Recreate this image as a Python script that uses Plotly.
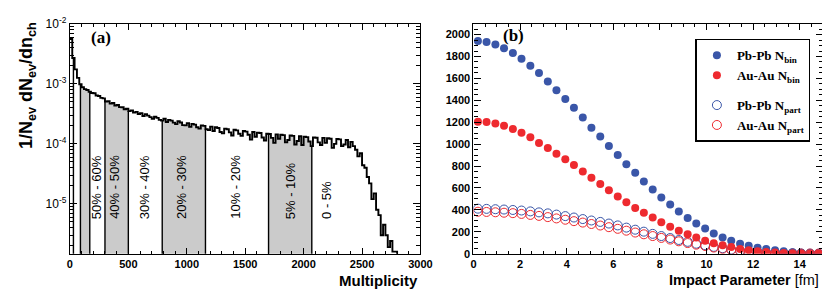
import numpy as np
import plotly.graph_objects as go

W, H = 830, 292

# ---------------- Left panel: multiplicity distribution ----------------
BIN_WIDTH = 20  # multiplicity units per histogram bin, first bin starts at 0
# bin contents in units of 1e-6 (1/N_ev dN_ev/dn_ch)
hist_1e6 = [
    5600, 2700, 1750, 1260, 990, 880, 820, 790, 740, 705,
    700, 640, 630, 585, 575, 510, 515, 470, 482, 436,
    445, 410, 408, 378, 385, 352, 362, 332, 342, 315,
    326, 292, 312, 296, 280, 262, 284, 272, 252, 244,
    262, 232, 252, 244, 226, 214, 238, 228, 206, 204,
    222, 192, 216, 210, 190, 180, 204, 200, 176, 170,
    194, 164, 190, 184, 158, 150, 180, 176, 156, 138,
    172, 168, 148, 136, 164, 160, 142, 118, 158, 132,
    154, 152, 128, 114, 148, 146, 126, 104, 144, 122,
    142, 140, 106, 116, 138, 136, 98, 112, 134, 96,
    132, 130, 110, 92, 128, 127, 106, 96, 126, 104,
    124, 122, 86, 100, 121, 119, 92, 98, 116, 88,
    108, 92, 80, 62, 70, 44, 40, 28, 22, 12,
    15, 8, 6.5, 3, 4.5, 3, 1.9, 2.4, 1.6, 1.6,
]
centrality_bounds = [30, 90, 170, 300, 500, 790, 1160, 1700, 2070]
gray_bands = [(90, 170), (300, 500), (790, 1160), (1700, 2070)]
centrality_labels = ["50% - 60%", "40% - 50%", "30% - 40%", "20% - 30%",
                     "10% - 20%", "5% - 10%", "0 - 5%"]
centrality_label_x = [235, 385, 645, 960, 1420, 1890, 2200]
left_xticks = [0, 500, 1000, 1500, 2000, 2500, 3000]
left_yticks = [1e-5, 1e-4, 1e-3, 1e-2]
left_yticklabels = ["10<sup>-5</sup>", "10<sup>-4</sup>", "10<sup>-3</sup>", "10<sup>-2</sup>"]

# ---------------- Right panel: Nbin / Npart vs impact parameter ----------------
impact_b = [0.19, 0.56, 0.94, 1.31, 1.69, 2.06, 2.44, 2.81, 3.19, 3.56,
            3.94, 4.31, 4.69, 5.06, 5.44, 5.81, 6.19, 6.56, 6.94, 7.31,
            7.69, 8.06, 8.44, 8.81, 9.19, 9.56, 9.94, 10.31, 10.69, 11.06,
            11.44, 11.81, 12.19, 12.56, 12.94, 13.31, 13.69, 14.06, 14.44, 14.81]
pbpb_nbin = [1942, 1933, 1910, 1875, 1832, 1780, 1716, 1650, 1571, 1493,
             1412, 1333, 1243, 1150, 1070, 983, 900, 817, 739, 658,
             585, 513, 450, 385, 325, 275, 229, 185, 148, 119,
             90, 72, 55, 43, 32, 22, 14, 8, 4, 2]
auau_nbin = [1205, 1203, 1188, 1168, 1138, 1104, 1063, 1011, 965, 913,
             861, 809, 750, 693, 635, 580, 522, 470, 417, 374,
             330, 287, 246, 209, 177, 148, 119, 96, 78, 61,
             43, 32, 22, 15, 10, 7, 4, 3, 2, 1]
pbpb_npart = [411, 409, 406, 403, 399, 394, 386, 377, 368, 357,
              343, 330, 316, 303, 290, 275, 258, 238, 219, 201,
              181, 161, 143, 125, 108, 91, 77, 62, 50, 38,
              28, 21, 15, 10, 6, 4, 2, 1, 1, 0.5]
auau_npart = [383, 381, 378, 374, 370, 363, 354, 345, 334, 322,
              310, 297, 284, 271, 257, 242, 227, 210, 193, 177,
              161, 144, 129, 113, 97, 82, 70, 56, 44, 34,
              25, 18, 12, 8, 5, 3, 2, 1, 1, 0.5]
right_xticks = [0, 2, 4, 6, 8, 10, 12, 14]
right_yticks = list(range(0, 2001, 200))

BLUE = "#3a56a8"
RED = "#ee2a2f"
GRAY = "#cbcbcb"

# ---------------- geometry (pixels) ----------------
L_X0, L_X1 = 60, 417
R_X0, R_X1 = 471, 827
Y_TOP, Y_BOT = 7, 249.5


def px(x):
    return x / W


def py(y):
    return 1 - y / H


hist = np.array(hist_1e6, dtype=float) * 1e-6
edges = np.arange(len(hist) + 1) * BIN_WIDTH
BASE = 1e-9  # below the visible log range (acts as "zero")


def hval(m):
    i = int(m // BIN_WIDTH)
    i = min(max(i, 0), len(hist) - 1)
    return hist[i]


fig = go.Figure()

# gray filled centrality bands under the histogram
for lo, hi in gray_bands:
    xs, ys = [lo], [BASE]
    xs.append(lo); ys.append(hval(lo))
    cur = hval(lo)
    for e in edges:
        if lo < e < hi:
            xs.append(e); ys.append(cur)
            cur = hval(e)
            xs.append(e); ys.append(cur)
    xs.append(hi); ys.append(cur)
    xs.append(hi); ys.append(BASE)
    fig.add_trace(go.Scatter(x=xs, y=ys, mode="lines", fill="toself",
                             fillcolor=GRAY, line=dict(width=0),
                             xaxis="x", yaxis="y", showlegend=False,
                             hoverinfo="skip"))

# histogram outline
hx = list(edges[:-1]) + [edges[-1], edges[-1]]
hy = list(hist) + [hist[-1], BASE]
fig.add_trace(go.Scatter(x=hx, y=hy, mode="lines", line_shape="hv",
                         line=dict(color="black", width=1.9),
                         xaxis="x", yaxis="y", showlegend=False))

# centrality boundary lines
for c in centrality_bounds:
    fig.add_trace(go.Scatter(x=[c, c], y=[BASE, hval(c)], mode="lines",
                             line=dict(color="black", width=1.4),
                             xaxis="x", yaxis="y", showlegend=False,
                             hoverinfo="skip"))

# right panel markers
fig.add_trace(go.Scatter(x=impact_b, y=pbpb_npart, mode="markers",
                         name="Pb-Pb N<sub>part</sub>", legendgroup="part",
                         legendrank=3,
                         marker=dict(symbol="circle-open", size=9, color=BLUE,
                                     line=dict(width=1)),
                         xaxis="x2", yaxis="y2"))
fig.add_trace(go.Scatter(x=impact_b, y=auau_npart, mode="markers",
                         name="Au-Au N<sub>part</sub>", legendgroup="part",
                         legendrank=4,
                         marker=dict(symbol="circle-open", size=9, color=RED,
                                     line=dict(width=1)),
                         xaxis="x2", yaxis="y2"))
fig.add_trace(go.Scatter(x=impact_b, y=pbpb_nbin, mode="markers",
                         name="Pb-Pb N<sub>bin</sub>", legendgroup="bin",
                         legendrank=1,
                         marker=dict(symbol="circle", size=8, color=BLUE),
                         xaxis="x2", yaxis="y2"))
fig.add_trace(go.Scatter(x=impact_b, y=auau_nbin, mode="markers",
                         name="Au-Au N<sub>bin</sub>", legendgroup="bin",
                         legendrank=2,
                         marker=dict(symbol="circle", size=8, color=RED),
                         xaxis="x2", yaxis="y2"))

tickfont = dict(family="Liberation Sans", size=11, color="black", weight="bold")
common = dict(showline=True, linecolor="black", linewidth=1.2, mirror="ticks",
              ticks="inside", tickcolor="black", tickwidth=1,
              showgrid=False, zeroline=False, tickfont=tickfont,
              ticklabeloverflow="allow")

ydom = [py(Y_BOT), py(Y_TOP)]
minor_log = [k * 10.0 ** e for e in (-6, -5, -4, -3) for k in range(2, 10)]

fig.update_layout(
    width=W, height=H,
    margin=dict(l=0, r=0, t=0, b=0),
    paper_bgcolor="white", plot_bgcolor="white",
    xaxis=dict(domain=[px(L_X0), px(L_X1)], range=[0, 3000], anchor="y",
               tickvals=left_xticks, ticklen=6,
               minor=dict(ticks="inside", dtick=100, ticklen=3,
                          tickcolor="black", showgrid=False),
               **common),
    yaxis=dict(domain=ydom, type="log", range=[-5.83, -1.995], anchor="x",
               tickvals=left_yticks, ticktext=left_yticklabels, ticklen=7,
               minor=dict(ticks="inside", tickvals=minor_log, ticklen=4,
                          tickcolor="black", showgrid=False),
               **{**common, "tickfont": dict(family="Liberation Sans", size=12,
                                             color="black")}),
    xaxis2=dict(domain=[px(R_X0), px(R_X1)], range=[0, 15], anchor="y2",
                tickvals=right_xticks, ticklen=6,
                minor=dict(ticks="inside", dtick=0.5, ticklen=3,
                           tickcolor="black", showgrid=False),
                **common),
    yaxis2=dict(domain=ydom, range=[0, 2100], anchor="x2",
                tickvals=right_yticks, ticklen=7,
                minor=dict(ticks="inside", dtick=50, ticklen=4,
                           tickcolor="black", showgrid=False),
                **common),
    legend=dict(x=px(697), y=py(23), xanchor="left", yanchor="top",
                bgcolor="white", bordercolor="black", borderwidth=1.5,
                traceorder="grouped", tracegroupgap=10,
                font=dict(family="Liberation Serif", size=13, color="black",
                          weight="bold"),
                itemwidth=30),
    showlegend=True,
)

annos = []
# panel labels
annos.append(dict(text="(a)", x=px(92), y=py(21.5), xref="paper", yref="paper",
                  showarrow=False, xanchor="center", yanchor="middle",
                  font=dict(family="Liberation Serif", size=17, color="black",
                            weight="bold")))
annos.append(dict(text="(b)", x=px(512), y=py(20), xref="paper", yref="paper",
                  showarrow=False, xanchor="center", yanchor="middle",
                  font=dict(family="Liberation Serif", size=17, color="black",
                            weight="bold")))
# axis titles
annos.append(dict(text="Multiplicity", x=px(417), y=py(278), xref="paper",
                  yref="paper", showarrow=False, xanchor="right",
                  yanchor="middle",
                  font=dict(family="Liberation Sans", size=15, color="black",
                            weight="bold")))
annos.append(dict(text="<b>Impact Parameter</b> [fm]", x=px(825), y=py(277),
                  xref="paper", yref="paper", showarrow=False,
                  xanchor="right", yanchor="middle",
                  font=dict(family="Liberation Sans", size=14.5, color="black")))
annos.append(dict(text="1/N<sub>ev</sub> dN<sub>ev</sub>/dn<sub>ch</sub>",
                  x=px(17), y=py(3), xref="paper", yref="paper",
                  showarrow=False, xanchor="center", yanchor="top",
                  textangle=-90,
                  font=dict(family="Liberation Sans", size=18, color="black",
                            weight="bold")))
# centrality labels
for lab, xm in zip(centrality_labels, centrality_label_x):
    annos.append(dict(text=lab, x=xm, y=py(215), xref="x", yref="paper",
                      showarrow=False, xanchor="center", yanchor="bottom",
                      textangle=-90,
                      font=dict(family="Liberation Sans", size=13,
                                color="black")))
fig.update_layout(annotations=annos)

fig.write_html("out.html")
